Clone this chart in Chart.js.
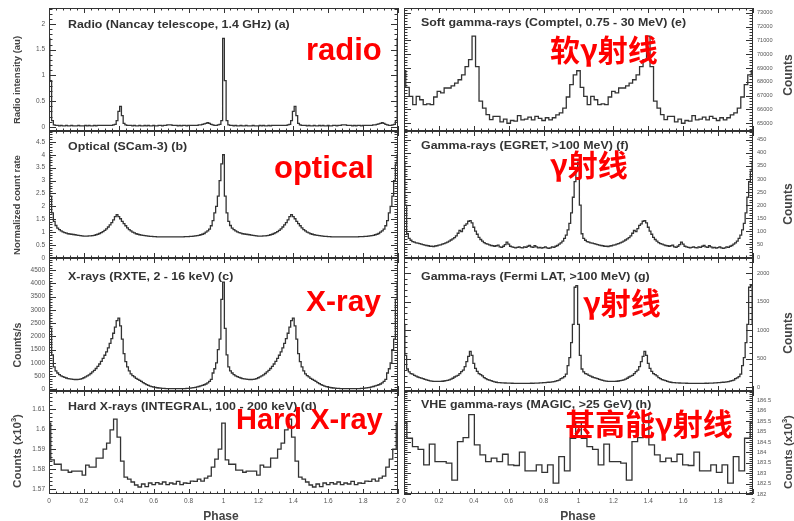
<!DOCTYPE html>
<html>
<head>
<meta charset="utf-8">
<script src="https://cdn.jsdelivr.net/npm/chart.js@4.4.1/dist/chart.umd.min.js"></script>
<style>
  html, body { margin: 0; padding: 0; background: #fff; }
  #wrap { position: relative; width: 794px; height: 521px; overflow: hidden; font-family: "Liberation Sans", Arial, sans-serif; }
  canvas { position: absolute; }
  .ttl { position: absolute; font-weight: bold; font-size: 10.5px; line-height: 1; color: #333; white-space: nowrap; transform-origin: 0 50%; transform: translateY(-50%) scaleX(1.18); }
  .ytl { position: absolute; font-weight: bold; line-height: 1; color: #444; white-space: nowrap; transform: translate(-50%, -50%) rotate(-90deg); }
  .ytl sup { font-size: 0.65em; }
  .red { position: absolute; color: #f00; font-weight: bold; line-height: 1; white-space: nowrap; }
  .cjk { font-family: "Noto Sans CJK SC", sans-serif; font-size: 30px; }
  .xtl { position: absolute; font-weight: bold; font-size: 12px; line-height: 1; color: #444; transform: translate(-50%, -50%); }
</style>
</head>
<body>
<div id="wrap">
  <canvas id="pa"></canvas>
  <canvas id="pb"></canvas>
  <canvas id="pc"></canvas>
  <canvas id="pd"></canvas>
  <canvas id="pe"></canvas>
  <canvas id="pf"></canvas>
  <canvas id="pg"></canvas>
  <canvas id="ph"></canvas>

  <div class="ttl" style="left:68px; top:24px;">Radio (Nancay telescope, 1.4 GHz) (a)</div>
  <div class="ttl" style="left:68px; top:146px;">Optical (SCam-3) (b)</div>
  <div class="ttl" style="left:68px; top:276px;">X-rays (RXTE, 2 - 16 keV) (c)</div>
  <div class="ttl" style="left:68px; top:406px;">Hard X-rays (INTEGRAL, 100 - 200 keV) (d)</div>
  <div class="ttl" style="left:421px; top:22px;">Soft gamma-rays (Comptel, 0.75 - 30 MeV) (e)</div>
  <div class="ttl" style="left:421px; top:145px;">Gamma-rays (EGRET, &gt;100 MeV) (f)</div>
  <div class="ttl" style="left:421px; top:276px;">Gamma-rays (Fermi LAT, &gt;100 MeV) (g)</div>
  <div class="ttl" style="left:421px; top:404px;">VHE gamma-rays (MAGIC, &gt;25 GeV) (h)</div>

  <div class="ytl" style="left:17px; top:80px; font-size:9.5px;">Radio intensity (au)</div>
  <div class="ytl" style="left:17px; top:205px; font-size:9.5px;">Normalized count rate</div>
  <div class="ytl" style="left:17px; top:345px; font-size:10.5px;">Counts/s</div>
  <div class="ytl" style="left:17px; top:451px; font-size:11.5px;">Counts (x10<sup>3</sup>)</div>
  <div class="ytl" style="left:788px; top:75px; font-size:12px;">Counts</div>
  <div class="ytl" style="left:788px; top:204px; font-size:12px;">Counts</div>
  <div class="ytl" style="left:788px; top:333px; font-size:12px;">Counts</div>
  <div class="ytl" style="left:788px; top:452px; font-size:11.5px;">Counts (x10<sup>3</sup>)</div>

  <div class="xtl" style="left:221px; top:516px;">Phase</div>
  <div class="xtl" style="left:578px; top:516px;">Phase</div>

  <div class="red" style="left:306px; top:34px; font-size:31px;">radio</div>
  <div class="red" style="left:274px; top:152px; font-size:31px;">optical</div>
  <div class="red" style="left:306px; top:286px; font-size:30px;">X-ray</div>
  <div class="red" style="left:236px; top:405px; font-size:29px;">Hard X-ray</div>
  <div class="red cjk" style="left:550px; top:33px;">软γ射线</div>
  <div class="red cjk" style="left:550px; top:148px;">γ射线</div>
  <div class="red cjk" style="left:583px; top:286px;">γ射线</div>
  <div class="red cjk" style="left:565px; top:407px;">甚高能γ射线</div>
</div>

<script>
// one rotation of each light curve, bins centred on phase k/n
const radioCycle = [
  1.72, 0.90, 0.12, 0.04, 0.03, 0.03, 0.02, 0.03, 0.02, 0.02,
  0.03, 0.02, 0.02, 0.03, 0.02, 0.02, 0.02, 0.03, 0.02, 0.02,
  0.02, 0.03, 0.02, 0.03, 0.02, 0.02, 0.03, 0.02, 0.03, 0.03,
  0.03, 0.03, 0.03, 0.03, 0.03, 0.03, 0.03, 0.04, 0.05, 0.12,
  0.30, 0.40, 0.22, 0.07, 0.04, 0.03, 0.03, 0.03, 0.02, 0.03,
  0.02, 0.02, 0.03, 0.02, 0.02, 0.03, 0.02, 0.03, 0.02, 0.02,
  0.03, 0.02, 0.02, 0.03, 0.03, 0.02, 0.03, 0.03, 0.04, 0.04,
  0.04, 0.03, 0.03, 0.03, 0.02, 0.03, 0.02, 0.03, 0.03, 0.02,
  0.03, 0.03, 0.03, 0.03, 0.03, 0.03, 0.04, 0.04, 0.05, 0.06,
  0.07, 0.08, 0.07, 0.05, 0.04, 0.03, 0.03, 0.04, 0.05, 0.12
];
const opticalCycle = [
  4.00, 2.40, 1.75, 1.42, 1.26, 1.16, 1.10, 1.05, 1.01, 0.98,
  0.96, 0.94, 0.93, 0.92, 0.91, 0.90, 0.89, 0.88, 0.87, 0.86,
  0.85, 0.85, 0.85, 0.86, 0.86, 0.87, 0.88, 0.90, 0.92, 0.95,
  0.98, 1.02, 1.07, 1.13, 1.20, 1.28, 1.37, 1.48, 1.60, 1.68,
  1.60, 1.52, 1.42, 1.33, 1.25, 1.17, 1.10, 1.05, 1.00, 0.97,
  0.94, 0.92, 0.90, 0.89, 0.88, 0.87, 0.86, 0.85, 0.84, 0.84,
  0.83, 0.83, 0.82, 0.82, 0.82, 0.82, 0.82, 0.82, 0.82, 0.82,
  0.82, 0.82, 0.82, 0.82, 0.82, 0.82, 0.82, 0.82, 0.83, 0.83,
  0.83, 0.84, 0.84, 0.85, 0.86, 0.87, 0.88, 0.90, 0.92, 0.95,
  1.00, 1.05, 1.12, 1.25, 1.45, 1.75, 2.00, 2.40, 3.00, 3.65
];
const xrayCycle = [
  4050, 2300, 1300, 850, 700, 620, 560, 510, 480, 455,
  430, 410, 400, 390, 380, 375, 375, 380, 390, 410,
  440, 470, 510, 550, 600, 660, 720, 790, 870, 960,
  1060, 1170, 1290, 1420, 1570, 1740, 1920, 2120, 2350, 2600,
  2690, 2400, 1900, 1350, 1050, 850, 700, 590, 520, 470,
  420, 380, 340, 300, 255, 215, 180, 150, 125, 105,
  88, 74, 62, 53, 46, 40, 36, 33, 31, 29,
  28, 27, 27, 26, 26, 27, 28, 30, 33, 37,
  42, 48, 56, 66, 78, 92, 110, 130, 152, 176,
  205, 245, 300, 380, 620, 780, 1000, 1500, 1900, 3400
];
const hardXrayCycle = [
  1.6030, 1.5846, 1.5824, 1.5824, 1.5795, 1.5795, 1.5784, 1.5790, 1.5790, 1.5790,
  1.5770, 1.5820, 1.5810, 1.5810, 1.5855, 1.5855, 1.5900, 1.5930, 1.5996, 1.6050,
  1.5960, 1.5840, 1.5760, 1.5750, 1.5735, 1.5720, 1.5710, 1.5725, 1.5712, 1.5730,
  1.5722, 1.5732, 1.5725, 1.5735, 1.5722, 1.5730, 1.5725, 1.5738, 1.5722, 1.5730,
  1.5728, 1.5740, 1.5738, 1.5750, 1.5740, 1.5755, 1.5765, 1.5810, 1.5850, 1.5900
];
const comptelCycle = [
  68800, 67600, 66950, 66350, 66950, 66700, 66350, 66400, 66350, 66900,
  67300, 67200, 67550, 67550, 67700, 67900, 68150, 68500, 69100, 69600,
  71300, 69100, 66600, 66100, 65620, 65260, 65500, 65500, 65100, 65300,
  65000, 65200, 65150, 65550, 65250, 65300, 65450, 65250, 65500, 65350,
  65200, 65400, 65250, 65400, 65600, 65750, 66100, 66900, 67800, 68500
];
const egretCycle = [
  365, 200, 90, 72, 65, 60, 58, 55, 54, 52,
  50, 48, 46, 45, 44, 42, 42, 41, 43, 44,
  46, 47, 50, 52, 55, 58, 62, 66, 70, 75,
  82, 92, 103, 98, 110, 122, 128, 138, 140, 132,
  115, 100, 88, 76, 68, 62, 56, 52, 50, 47,
  45, 44, 42, 44, 46, 40, 38, 42, 48, 58,
  50, 42, 40, 38, 36, 38, 40, 37, 36, 40,
  38, 42, 45, 40, 38, 44, 40, 36, 38, 35,
  37, 40, 36, 34, 36, 40, 38, 42, 45, 50,
  55, 62, 72, 85, 105, 130, 170, 230, 290, 330
];
const fermiCycle = [
  1100, 560, 320, 270, 240, 230, 210, 195, 180, 170,
  160, 150, 140, 130, 120, 112, 108, 105, 103, 102,
  102, 104, 106, 110, 115, 122, 130, 142, 158, 180,
  195, 210, 240, 275, 300, 360, 450, 540, 630, 560,
  420, 330, 280, 240, 220, 200, 170, 150, 135, 125,
  115, 105, 95, 88, 82, 80, 78, 76, 75, 74,
  73, 72, 71, 70, 70, 69, 70, 69, 68, 70,
  69, 68, 70, 71, 70, 72, 73, 74, 76, 78,
  80, 82, 85, 88, 92, 96, 100, 108, 115, 125,
  150, 165, 185, 230, 380, 520, 780, 1100, 1750, 1780
];
const magicCycle = [
  185.45, 184.68, 184.28, 184.14, 183.40, 184.40, 183.56, 183.56, 183.48, 182.67,
  184.52, 184.71, 185.81, 184.36, 183.88, 183.56, 183.72, 183.56, 183.91, 183.40,
  183.37, 184.01, 183.11, 183.11, 183.40, 183.04, 183.40, 182.52, 183.80, 183.11,
  184.68
];

const phaseTicks = [0, 0.2, 0.4, 0.6, 0.8, 1, 1.2, 1.4, 1.6, 1.8, 2];
const radioTicks = [0, 0.5, 1, 1.5, 2];
const opticalTicks = [0, 0.5, 1, 1.5, 2, 2.5, 3, 3.5, 4, 4.5];
const xrayTicks = [0, 500, 1000, 1500, 2000, 2500, 3000, 3500, 4000, 4500];
const hardXrayTicks = [1.57, 1.58, 1.59, 1.6, 1.61];
const comptelTicks = [65000, 66000, 67000, 68000, 69000, 70000, 71000, 72000, 73000];
const egretTicks = [0, 50, 100, 150, 200, 250, 300, 350, 400, 450];
const fermiTicks = [0, 500, 1000, 1500, 2000];
const magicTicks = [182, 182.5, 183, 183.5, 184, 184.5, 185, 185.5, 186, 186.5];

// the folded light curve is drawn twice, phase 0 to 2
function twoCycles(cycle) {
  const n = cycle.length;
  return Array.from({ length: 2 * n + 1 }, (_, i) => ({ x: i / n, y: cycle[i % n] }));
}

const fmt = v => String(Math.round(v * 10000) / 10000);
const family = "'Liberation Sans', Arial, sans-serif";

// ROOT style frame with inward major/minor ticks on all four sides
const rootFrame = {
  id: 'rootFrame',
  afterDatasetsDraw(chart) {
    const { ctx, chartArea: a } = chart;
    const marks = (scale, nMinor) => {
      const vals = scale.ticks.map(t => t.value);
      const step = (vals[1] - vals[0]) / nMinor;
      const k0 = Math.ceil((scale.min - vals[0]) / step - 1e-6);
      const k1 = Math.floor((scale.max - vals[0]) / step + 1e-6);
      const out = [];
      for (let k = k0; k <= k1; k++) {
        out.push({ px: scale.getPixelForValue(vals[0] + k * step), major: ((k % nMinor) + nMinor) % nMinor === 0 });
      }
      return out;
    };
    ctx.save();
    ctx.strokeStyle = '#333';
    ctx.lineWidth = 1;
    ctx.beginPath();
    for (const m of marks(chart.scales.x, 5)) {
      const L = m.major ? 5 : 2.5;
      const px = Math.round(m.px) + 0.5;
      ctx.moveTo(px, a.bottom); ctx.lineTo(px, a.bottom - L);
      ctx.moveTo(px, a.top); ctx.lineTo(px, a.top + L);
    }
    for (const m of marks(chart.scales.y, 5)) {
      const L = m.major ? 7 : 3.5;
      const py = Math.round(m.px) + 0.5;
      ctx.moveTo(a.left, py); ctx.lineTo(a.left + L, py);
      ctx.moveTo(a.right, py); ctx.lineTo(a.right - L, py);
    }
    ctx.stroke();
    ctx.strokeRect(Math.round(a.left) + 0.5, Math.round(a.top) + 0.5, Math.round(a.width) - 1, Math.round(a.height) - 1);
    ctx.restore();
  }
};

const rows = [[8, 131], [131, 258], [258, 391], [391, 494]];
const cols = [
  { plotL: 49, plotR: 398, cvL: 0, cvW: 412 },
  { plotL: 404, plotR: 753, cvL: 392, cvW: 402 }
];

const panels = [
  { id: 'pa', col: 0, row: 0, cycle: radioCycle, yMin: -0.08, yMax: 2.31, yTicks: radioTicks },
  { id: 'pb', col: 0, row: 1, cycle: opticalCycle, yMin: 0, yMax: 4.92, yTicks: opticalTicks },
  { id: 'pc', col: 0, row: 2, cycle: xrayCycle, yMin: -60, yMax: 4960, yTicks: xrayTicks },
  { id: 'pd', col: 0, row: 3, cycle: hardXrayCycle, yMin: 1.5675, yMax: 1.6191, yTicks: hardXrayTicks },
  { id: 'pe', col: 1, row: 0, cycle: comptelCycle, yMin: 64440, yMax: 73340, yTicks: comptelTicks },
  { id: 'pf', col: 1, row: 1, cycle: egretCycle, yMin: -3, yMax: 484, yTicks: egretTicks },
  { id: 'pg', col: 1, row: 2, cycle: fermiCycle, yMin: -65, yMax: 2262, yTicks: fermiTicks },
  { id: 'ph', col: 1, row: 3, cycle: magicCycle, yMin: 182, yMax: 186.95, yTicks: magicTicks }
];

function makePanel(p) {
  const c = cols[p.col];
  const [top, bottom] = rows[p.row];
  const last = p.row === 3;
  const isLeft = p.col === 0;
  const cvTop = top - 8;
  const cv = document.getElementById(p.id);
  cv.width = c.cvW;
  cv.height = last ? 521 - cvTop : bottom - top + 16;
  cv.style.left = c.cvL + 'px';
  cv.style.top = cvTop + 'px';

  return new Chart(cv, {
    type: 'line',
    data: {
      datasets: [{
        data: twoCycles(p.cycle),
        stepped: 'middle',
        borderColor: '#333',
        borderWidth: 1.3,
        pointRadius: 0,
        fill: false
      }]
    },
    options: {
      responsive: false,
      animation: false,
      events: [],
      layout: {
        padding: {
          top: 8, bottom: 0,
          left: isLeft ? 0 : c.plotL - c.cvL,
          right: isLeft ? c.cvL + c.cvW - c.plotR : 0
        }
      },
      plugins: { legend: { display: false }, tooltip: { enabled: false } },
      scales: {
        x: {
          type: 'linear', min: 0, max: 2,
          grid: { display: false, drawTicks: false }, border: { display: false },
          afterBuildTicks: s => { s.ticks = phaseTicks.map(v => ({ value: v })); },
          afterFit: s => { s.height = last ? 521 - bottom : 8; },
          ticks: { display: last, autoSkip: false, maxRotation: 0, padding: 3, color: '#555',
                   font: { size: 6.5, family }, callback: v => fmt(v) }
        },
        y: {
          type: 'linear', position: isLeft ? 'left' : 'right', min: p.yMin, max: p.yMax,
          grid: { display: false, drawTicks: false }, border: { display: false },
          afterBuildTicks: s => { s.ticks = p.yTicks.map(v => ({ value: v })); },
          afterFit: s => { s.width = isLeft ? c.plotL - c.cvL : c.cvL + c.cvW - c.plotR; },
          ticks: { autoSkip: false, padding: 4, color: '#555',
                   font: { size: isLeft ? 6.5 : 5.6, family }, callback: v => fmt(v) }
        }
      }
    },
    plugins: [rootFrame]
  });
}

panels.forEach(makePanel);
</script>
</body>
</html>
